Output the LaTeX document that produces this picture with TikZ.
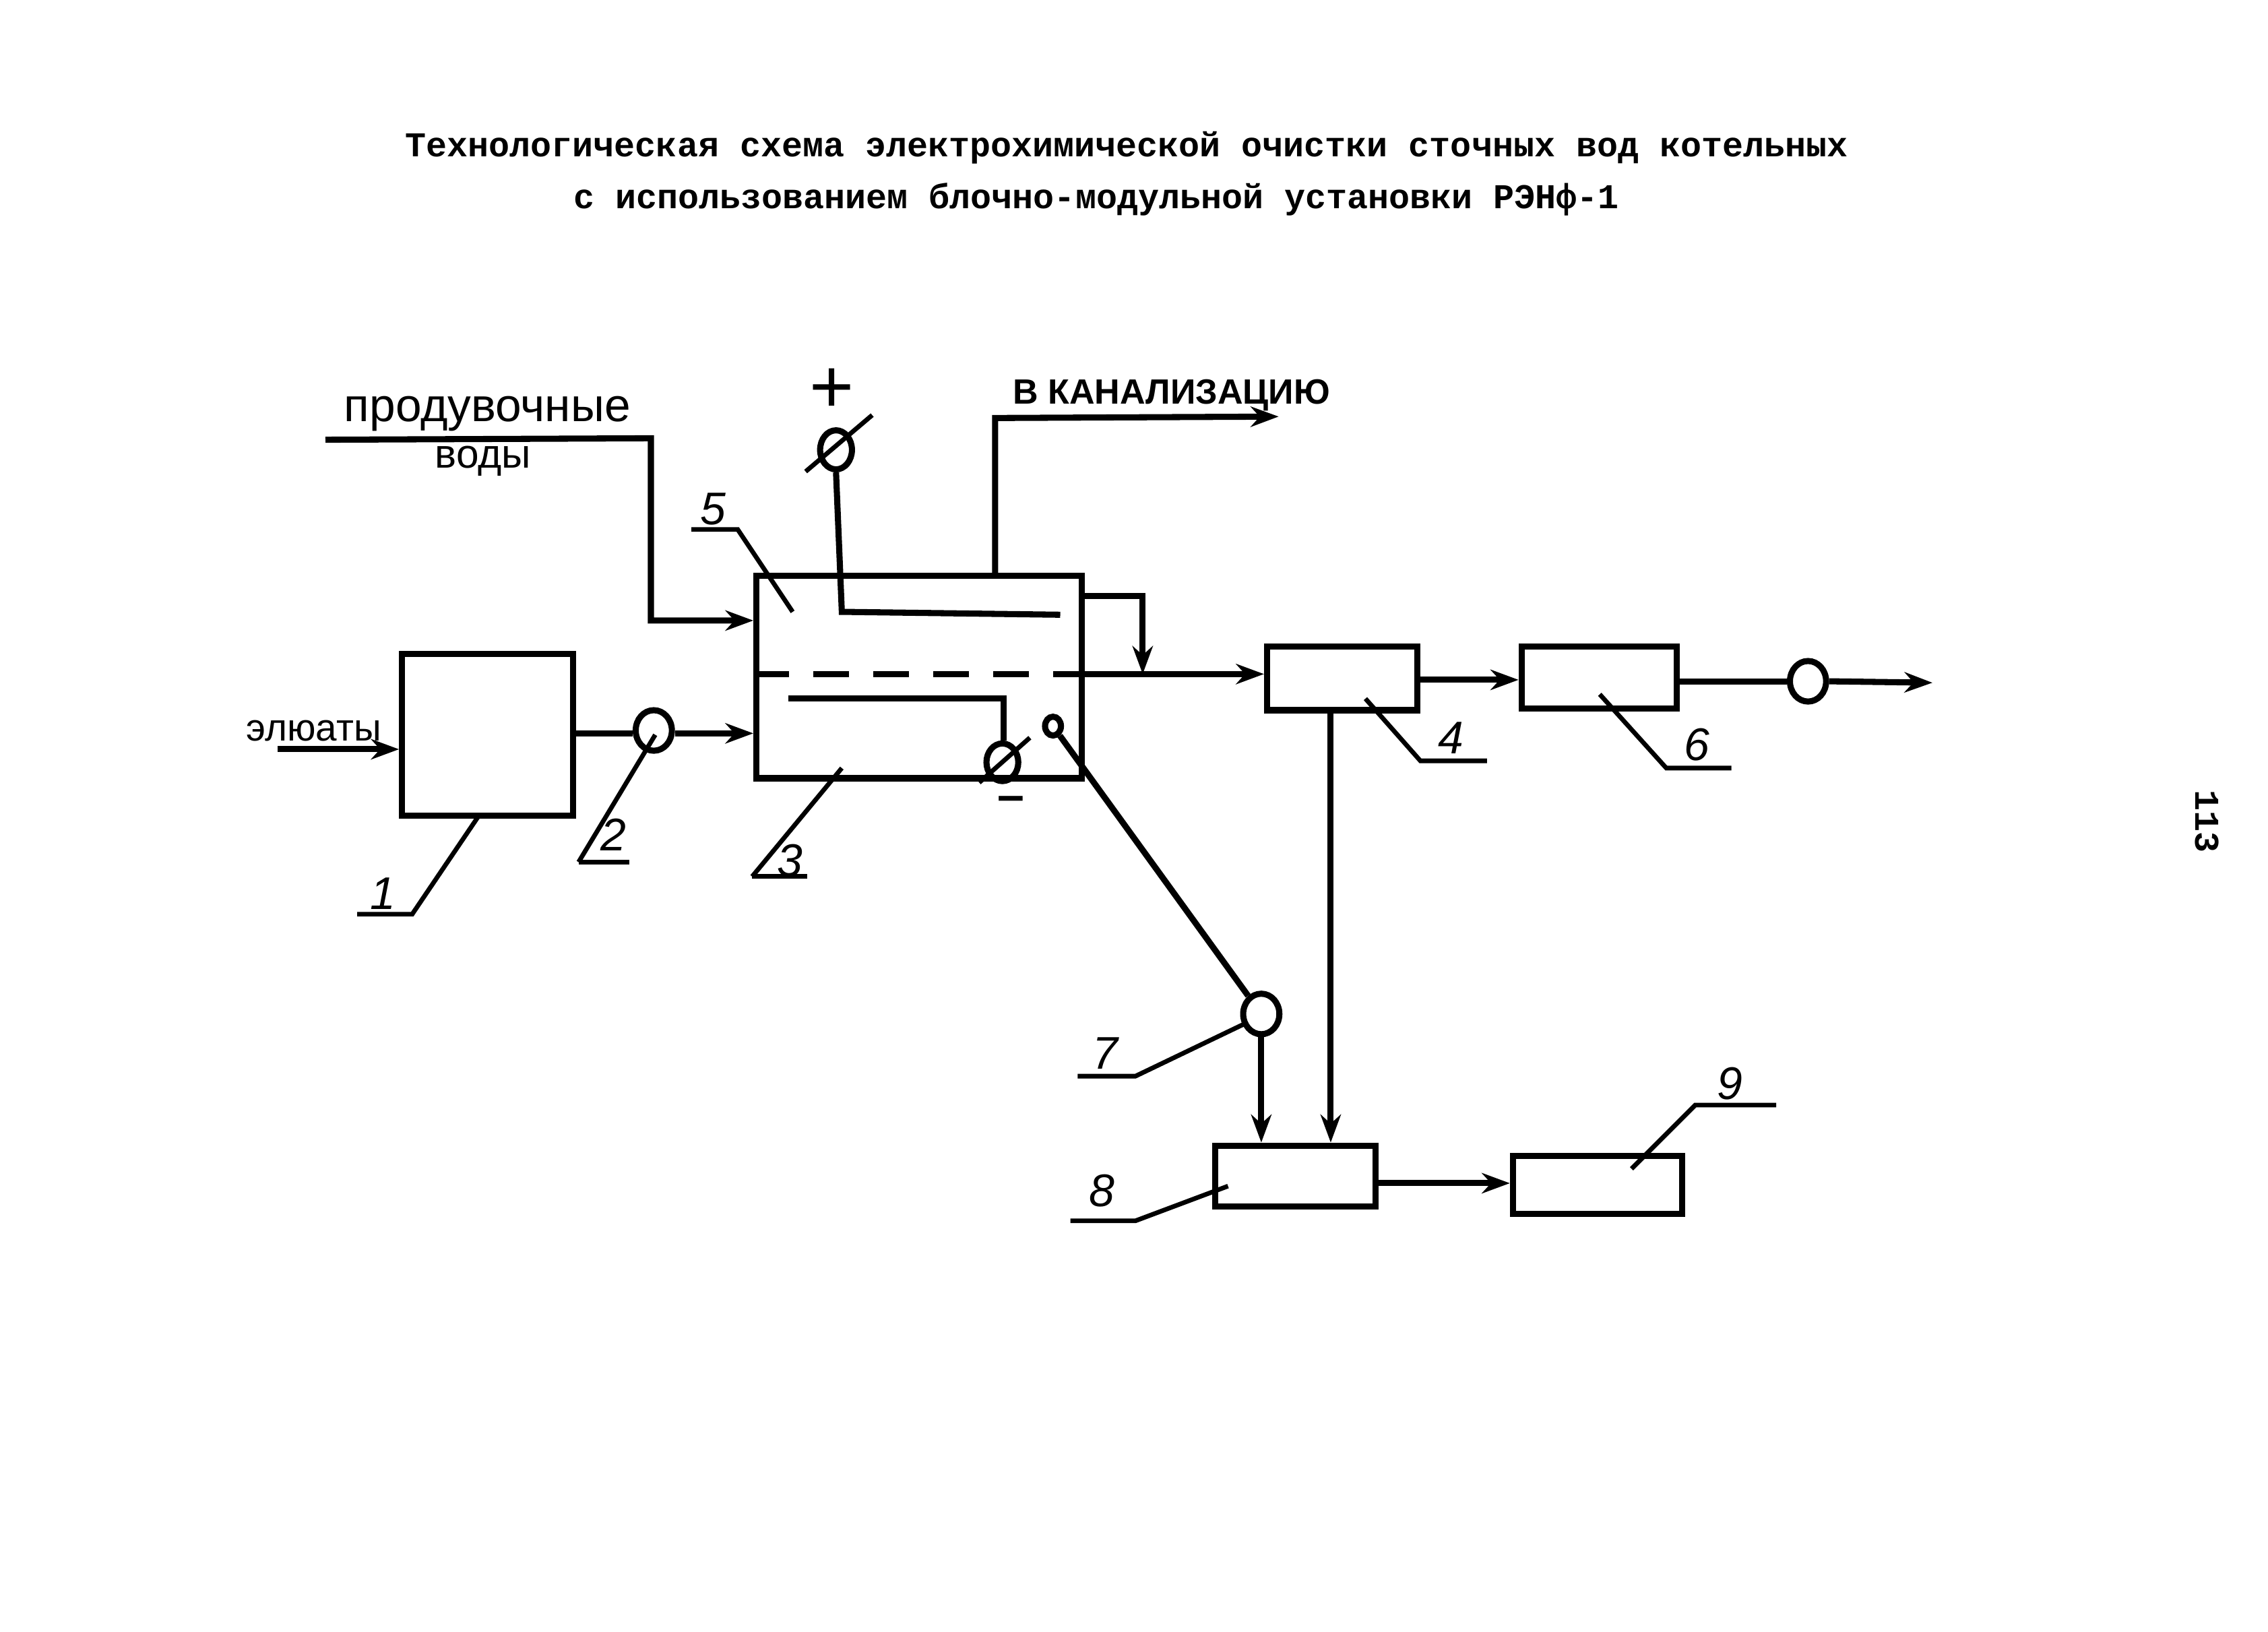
\documentclass[tikz,border=0pt]{standalone}
\usepackage{fontspec}
\setmainfont{Liberation Sans}
\newfontfamily\typefont{Liberation Mono}
\usepackage{tikz}
\usetikzlibrary{shapes.geometric, arrows.meta, calc}

\begin{document}
\begin{tikzpicture}[
  x=0.01cm, y=-0.01cm,
  unit/.style = {rectangle, draw=black, line width=1.2pt, inner sep=0pt},
  pump/.style = {ellipse, draw=black, line width=1.2pt, inner sep=0pt,
                 minimum width=0.25cm, minimum height=0.28cm},
  arr/.style  = {-{Stealth[length=5.5pt,width=4pt]}, line width=1.2pt, black},
  lin/.style  = {line width=1.2pt, black},
  lead/.style = {line width=0.9pt, black},
  num/.style  = {font=\fontsize{9}{9}\selectfont\itshape, inner sep=0pt},
  lbl/.style  = {font=\fontsize{7.5}{7.5}\selectfont, inner sep=0pt},
  hdr/.style  = {font=\typefont\bfseries\fontsize{6.85}{6.85}\selectfont, inner sep=0pt},
]
  \useasboundingbox (0,0) rectangle (1568,1128);

  % heading
  \node[hdr] (head1) at (779,102) {Технологическая схема электрохимической очистки сточных вод котельных};
  \node[hdr] (head2) at (758,138) {с использованием блочно-модульной установки РЭНф-1};

  % units
  \node[unit, minimum width=1.18cm, minimum height=1.12cm] (unit1) at (337,508) {};
  \node[unit, minimum width=2.25cm, minimum height=1.40cm] (unit3) at (635.5,468) {};
  \node[unit, minimum width=1.04cm, minimum height=0.44cm] (unit4) at (928,469) {};
  \node[unit, minimum width=1.07cm, minimum height=0.43cm] (unit6) at (1105.5,468.5) {};
  \node[unit, minimum width=1.11cm, minimum height=0.42cm] (unit8) at (895.5,813) {};
  \node[unit, minimum width=1.17cm, minimum height=0.40cm] (unit9) at (1104.5,819) {};

  % pumps and meters
  \node[pump] (pump2) at (452,505) {};
  \node[pump] (pump6) at (1250,471) {};
  \node[pump] (pump7) at (872,701) {};
  \node[pump, minimum width=0.22cm, minimum height=0.27cm] (meterp) at (578,311) {};
  \node[pump, minimum width=0.22cm, minimum height=0.26cm] (meterm) at (693,527) {};
  \node[pump, minimum width=0.11cm, minimum height=0.13cm] (tap) at (728,502) {};

  % free ends
  \coordinate (blow)  at (225,304);
  \coordinate (blowb) at (450,303);
  \coordinate (eluat) at (192,518);
  \coordinate (drain) at (884,288);
  \coordinate (plate) at (733,425);
  \coordinate (platb) at (582,423);
  \coordinate (catho) at (545,483);
  \coordinate (cathb) at (694,483);
  \coordinate (outl)  at (1336,472);
  \coordinate (dashs) at (unit3.west |- 0,466);
  \coordinate (dashe) at (unit3.east |- 0,466);

  % flows
  \draw[arr] (blow) -- (blowb) -- (450,429) -- (unit3.west |- 0,429);
  \draw[arr] (eluat) -- (unit1.west |- eluat);
  \draw[lin] (unit1.east |- 0,507) -- (pump2.west |- 0,507);
  \draw[arr] (pump2.east |- 0,507) -- (unit3.west |- 0,507);
  \draw[arr] (688,398) -- (688,289) -- (drain);
  \draw[lin] (meterp.south) -- (platb) -- (plate);
  \draw[lin] (catho) -- (cathb) -- (meterm.north -| cathb);
  \draw[lin, dash pattern=on 7pt off 4.8pt] (dashs) -- (dashe);
  \draw[arr] (dashe) -- (unit4.west |- dashe);
  \draw[arr] (unit3.east |- 0,412) -- (790,412) -- (790,466);
  \draw[arr] (unit4.east |- 0,470) -- (unit6.west |- 0,470);
  \draw[lin] (unit6.east |- 0,471) -- (pump6.west);
  \draw[arr] (pump6.east) -- (outl);
  \draw[arr] (unit4.south -| 920,0) -- (unit8.north -| 920,0);
  \draw[lin] (tap) -- (pump7);
  \draw[arr] (pump7.south) -- (unit8.north -| pump7);
  \draw[arr] (unit8.east |- 0,818) -- (unit9.west |- 0,818);

  % meter strokes
  \draw[lead] (557,326) -- (603,287);
  \draw[lead] (677,541) -- (712,510);

  % leaders
  \draw[lead] (247,632) -- (285,632) -- (331,564);
  \draw[lead] (400,596) -- (435,596);
  \draw[lead] (400,596) -- (453,508);
  \draw[lead] (520,606) -- (558,606);
  \draw[lead] (520,606) -- (582,531);
  \draw[lead] (478,366) -- (510,366) -- (548,423);
  \draw[lead] (1028,526) -- (982,526) -- (944,483);
  \draw[lead] (1197,531) -- (1152,531) -- (1106,480);
  \draw[lead] (745,744) -- (785,744) -- (860,708);
  \draw[lead] (740,844) -- (785,844) -- (849,820);
  \draw[lead] (1228,764) -- (1172,764) -- (1128,808);

  % labels
  \node[lbl, font=\fontsize{9.2}{9.2}\selectfont] (lblblow) at (337,286) {продувочные};
  \node[lbl, font=\fontsize{8}{8}\selectfont] (lblwat) at (334,319) {воды};
  \node[lbl] (lbleluat) at (217,505) {элюаты};
  \node[lbl, font=\fontsize{6.9}{6.9}\selectfont\bfseries] (lbldrain) at (810,273) {В КАНАЛИЗАЦИЮ};
  \node[font=\fontsize{15}{15}\selectfont, inner sep=0pt] (lblplus) at (575,270) {+};
  \node[font=\fontsize{9.5}{9.5}\selectfont\bfseries, inner sep=0pt] (lblminus) at (699,556) {–};
  \node[num] (num1) at (265,618) {1};
  \node[num] (num2) at (424,577) {2};
  \node[num] (num3) at (546,595) {3};
  \node[num] (num4) at (1003,510) {4};
  \node[num] (num5) at (493,352) {5};
  \node[num] (num6) at (1173,515) {6};
  \node[num] (num7) at (764,728) {7};
  \node[num] (num8) at (762,823) {8};
  \node[num] (num9) at (1196,749) {9};
  \node[hdr, rotate=-90] (page) at (1526,568) {113};
\end{tikzpicture}
\end{document}
